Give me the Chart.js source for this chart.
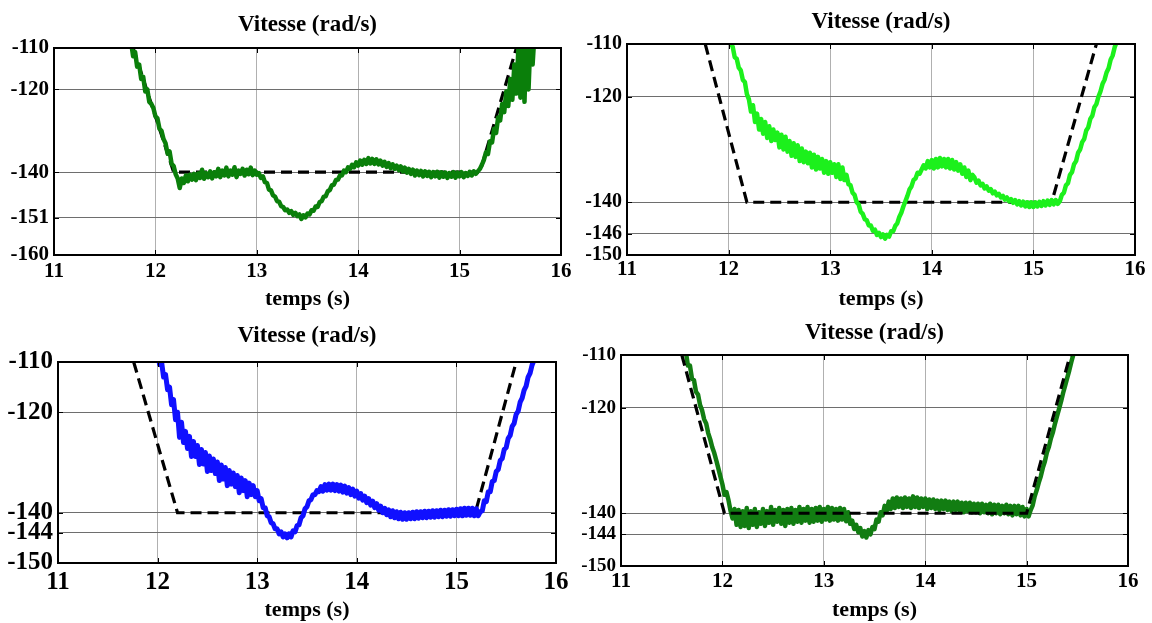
<!DOCTYPE html>
<html>
<head>
<meta charset="utf-8">
<script src="https://cdn.jsdelivr.net/npm/chart.js@4.4.1/dist/chart.umd.min.js"></script>
<style>
  html, body { margin: 0; padding: 0; background: #fff; }
  #wrap { position: relative; width: 1152px; height: 623px; overflow: hidden; }
  canvas { position: absolute; display: block; }
</style>
</head>
<body>
<div id="wrap">
  <canvas id="c1" width="576" height="311" style="left:0;top:0"></canvas>
  <canvas id="c2" width="576" height="311" style="left:576px;top:0"></canvas>
  <canvas id="c3" width="576" height="312" style="left:0;top:311px"></canvas>
  <canvas id="c4" width="576" height="312" style="left:576px;top:311px"></canvas>
</div>
<script>
// ---- time axis ----
const xTicks = [11, 12, 13, 14, 15, 16];

// ---- y tick values for each panel ----
const yTicksTL = [-160, -151, -140, -120, -110];
const yTicksTR = [-150, -146, -140, -120, -110];
const yTicksBL = [-150, -144, -140, -120, -110];
const yTicksBR = [-150, -144, -140, -120, -110];

// ---- speed references (rad/s) : [t, w] ----
const refTL = [[11.78, -110], [12.18, -140], [15.20, -140], [15.56, -110]];
const refTR = [[11.77, -110], [12.18, -140], [15.18, -140], [15.62, -110]];
const refBL = [[11.76, -110], [12.20, -140], [15.19, -140], [15.60, -110]];
const refBR = [[11.60, -110], [12.02, -140], [15.00, -140], [15.43, -110]];

// ---- measured speeds (rad/s) : [t, w] ----
const speedTL = [
  [11.72,-106],[11.74,-109],[11.76,-108.5],[11.78,-112],[11.80,-111],[11.82,-114.5],[11.84,-114],[11.86,-117.5],
  [11.88,-117],[11.90,-120.5],[11.92,-120],[11.94,-123],[11.96,-123.5],[11.98,-124.5],[12.00,-126.5],[12.02,-127],
  [12.04,-129.5],[12.06,-130],[12.08,-132],[12.10,-133],[12.12,-135.5],[12.14,-135],[12.16,-138],[12.18,-138.5],
  [12.20,-140.5],[12.22,-141.5],[12.24,-143.8],[12.26,-141.5],[12.28,-142.6],[12.30,-140.8],[12.32,-142.2],[12.34,-140.6],
  [12.36,-141.8],[12.38,-140.4],[12.40,-141.9],[12.42,-140.3],[12.44,-141.4],[12.46,-139.4],[12.48,-141.6],[12.50,-140.2],
  [12.52,-141.2],[12.54,-139.8],[12.56,-141.5],[12.58,-140],[12.60,-141],[12.62,-139.2],[12.64,-141.2],[12.66,-139.6],
  [12.68,-140.8],[12.70,-138.9],[12.72,-141],[12.74,-139.6],[12.76,-140.6],[12.78,-138.8],[12.80,-141.2],[12.82,-139.6],
  [12.84,-140.4],[12.86,-139.2],[12.88,-140.8],[12.90,-139.4],[12.92,-140.5],[12.94,-138.9],[12.96,-140.7],[12.98,-139.6],
  [13.00,-140.6],[13.02,-140.2],[13.04,-141.4],[13.06,-141],[13.08,-142.4],[13.10,-142.6],[13.12,-144.2],[13.14,-144.4],
  [13.16,-145.6],[13.18,-145.9],[13.20,-147],[13.22,-147.1],[13.24,-148.2],[13.26,-148.4],[13.28,-149.2],[13.30,-149],
  [13.32,-149.8],[13.34,-149.4],[13.36,-150.3],[13.38,-149.8],[13.40,-150.6],[13.42,-150.2],[13.44,-151.3],[13.46,-150.4],
  [13.48,-150.9],[13.50,-150],[13.52,-150.2],[13.54,-149.2],[13.56,-149.3],[13.58,-148.3],[13.60,-148.4],[13.62,-147.2],
  [13.64,-147],[13.66,-145.9],[13.68,-145.8],[13.70,-144.6],[13.72,-144.3],[13.74,-143.2],[13.76,-143],[13.78,-141.9],
  [13.80,-141.8],[13.82,-140.8],[13.84,-140.8],[13.86,-139.6],[13.88,-140],[13.90,-138.8],[13.92,-139.2],[13.94,-138.2],
  [13.96,-138.8],[13.98,-137.6],[14.00,-138.4],[14.02,-137.2],[14.04,-138.2],[14.06,-137],[14.08,-138],[14.10,-136.6],
  [14.12,-137.9],[14.14,-136.8],[14.16,-138],[14.18,-136.9],[14.20,-138.1],[14.22,-137.2],[14.24,-138.4],[14.26,-137.5],
  [14.28,-138.7],[14.30,-137.8],[14.32,-139],[14.34,-138.1],[14.36,-139.2],[14.38,-138.4],[14.40,-139.5],[14.42,-138.6],
  [14.44,-139.8],[14.46,-138.9],[14.48,-140.1],[14.50,-139.2],[14.52,-140.4],[14.54,-139.4],[14.56,-140.8],[14.58,-139.6],
  [14.60,-140.7],[14.62,-139.7],[14.64,-141],[14.66,-139.8],[14.68,-140.9],[14.70,-139.9],[14.72,-141.2],[14.74,-140],
  [14.76,-141],[14.78,-139.9],[14.80,-141.3],[14.82,-140],[14.84,-141.1],[14.86,-140.1],[14.88,-141.4],[14.90,-140.2],
  [14.92,-141.1],[14.94,-140],[14.96,-141.3],[14.98,-140.1],[15.00,-141],[15.02,-140],[15.04,-141.2],[15.06,-140.2],
  [15.08,-140.9],[15.10,-139.9],[15.12,-140.8],[15.14,-139.8],[15.16,-140.4],[15.18,-139.8],[15.20,-139.2],[15.22,-138.2],
  [15.24,-137],[15.26,-135.2],[15.28,-135.6],[15.30,-132.5],[15.32,-132.8],[15.34,-129.5],[15.36,-130.5],[15.38,-126.8],
  [15.40,-127.5],[15.42,-123.5],[15.44,-125.5],[15.46,-120.5],[15.48,-124],[15.50,-117.5],[15.52,-122.5],[15.54,-114],
  [15.56,-121],[15.58,-110],[15.60,-122],[15.62,-108],[15.64,-123],[15.66,-106],[15.68,-120],[15.70,-107],
  [15.72,-114],[15.74,-106]
];

const speedTR = [
  [12.00,-107],[12.02,-110],[12.04,-110.5],[12.06,-112.5],[12.08,-112.8],[12.10,-114.5],[12.12,-115],[12.14,-116.8],
  [12.16,-117.2],[12.18,-119.5],[12.20,-120.5],[12.22,-122.8],[12.24,-121.6],[12.26,-124.8],[12.28,-123.2],[12.30,-126.2],
  [12.32,-124.2],[12.34,-127],[12.36,-124.8],[12.38,-127.8],[12.40,-125.6],[12.42,-128.4],[12.44,-126.2],[12.46,-128.2],
  [12.48,-126.8],[12.50,-129.6],[12.52,-127.2],[12.54,-130],[12.56,-127.6],[12.58,-130.4],[12.60,-128.4],[12.62,-131.2],
  [12.64,-128.8],[12.66,-131.4],[12.68,-129.2],[12.70,-132.2],[12.72,-129.8],[12.74,-132.4],[12.76,-130.4],[12.78,-132.6],
  [12.80,-130.6],[12.82,-133.4],[12.84,-131],[12.86,-133.8],[12.88,-131.4],[12.90,-133.6],[12.92,-131.8],[12.94,-134.4],
  [12.96,-132.2],[12.98,-134.6],[13.00,-132.4],[13.02,-134.4],[13.04,-132.8],[13.06,-135.2],[13.08,-132.8],[13.10,-135.6],
  [13.12,-133.4],[13.14,-135.8],[13.16,-134.8],[13.18,-136.6],[13.20,-136.8],[13.22,-138.2],[13.24,-138.6],[13.26,-140],
  [13.28,-140.4],[13.30,-141.8],[13.32,-142.2],[13.34,-143.2],[13.36,-143.4],[13.38,-144.4],[13.40,-144.4],[13.42,-145.4],
  [13.44,-145.2],[13.46,-146.2],[13.48,-145.8],[13.50,-146.6],[13.52,-146.1],[13.54,-146.9],[13.56,-146.2],[13.58,-146.5],
  [13.60,-145.5],[13.62,-145.5],[13.64,-144.5],[13.66,-144],[13.68,-142.8],[13.70,-142],[13.72,-140.8],[13.74,-139.8],
  [13.76,-138.8],[13.78,-137.6],[13.80,-137],[13.82,-135.8],[13.84,-135.5],[13.86,-134.4],[13.88,-134.6],[13.90,-133.8],
  [13.92,-133],[13.94,-133.6],[13.96,-132.2],[13.98,-133.4],[14.00,-132],[14.02,-133.6],[14.04,-131.8],[14.06,-133.4],
  [14.08,-131.6],[14.10,-133.2],[14.12,-131.8],[14.14,-133.4],[14.16,-131.8],[14.18,-133.6],[14.20,-132],[14.22,-133.8],
  [14.24,-132.4],[14.26,-134],[14.28,-132.8],[14.30,-134.6],[14.32,-133.4],[14.34,-135.2],[14.36,-134],[14.38,-135.8],
  [14.40,-134.8],[14.42,-135.3],[14.44,-136.3],[14.46,-135.9],[14.48,-136.8],[14.50,-136.5],[14.52,-137.4],[14.54,-137],
  [14.56,-137.8],[14.58,-137.5],[14.60,-138.3],[14.62,-138],[14.64,-138.7],[14.66,-138.4],[14.68,-139.1],[14.70,-138.8],
  [14.72,-139.5],[14.74,-139.1],[14.76,-139.8],[14.78,-139.4],[14.80,-140.1],[14.82,-139.6],[14.84,-140.4],[14.86,-139.8],
  [14.88,-140.6],[14.90,-139.9],[14.92,-140.8],[14.94,-140],[14.96,-140.9],[14.98,-140],[15.00,-140.9],[15.02,-140],
  [15.04,-140.8],[15.06,-139.9],[15.08,-140.7],[15.10,-139.8],[15.12,-140.6],[15.14,-139.7],[15.16,-140.5],[15.18,-139.6],
  [15.20,-140.4],[15.22,-139.6],[15.24,-140.3],[15.26,-139.8],[15.28,-138.6],[15.30,-138.2],[15.32,-136.8],[15.34,-136.4],
  [15.36,-134.8],[15.38,-134.3],[15.40,-132.8],[15.42,-132.2],[15.44,-130.6],[15.46,-130],[15.48,-128.6],[15.50,-128],
  [15.52,-126.4],[15.54,-125.8],[15.56,-124.2],[15.58,-123.6],[15.60,-122],[15.62,-121.4],[15.64,-120],[15.66,-119],
  [15.68,-117.6],[15.70,-116.8],[15.72,-115.4],[15.74,-114.6],[15.76,-113],[15.78,-112.2],[15.80,-110.6],[15.82,-109.6],
  [15.84,-108]
];

const speedBL = [
  [12.00,-108],[12.02,-110.5],[12.04,-110],[12.06,-113],[12.08,-112.5],[12.10,-115.5],[12.12,-115],[12.14,-118.5],
  [12.16,-117.5],[12.18,-121.5],[12.20,-120],[12.22,-125],[12.24,-122],[12.26,-126],[12.28,-123.8],[12.30,-127.2],
  [12.32,-124.8],[12.34,-128.8],[12.36,-125.8],[12.38,-128.8],[12.40,-126.6],[12.42,-130.4],[12.44,-127.4],[12.46,-130.3],
  [12.48,-128],[12.50,-131.8],[12.52,-128.7],[12.54,-131.6],[12.56,-129.3],[12.58,-132.2],[12.60,-129.9],[12.62,-133.6],
  [12.64,-130.5],[12.66,-133.3],[12.68,-131],[12.70,-134.6],[12.72,-131.6],[12.74,-134.3],[12.76,-132.1],[12.78,-134.8],
  [12.80,-132.6],[12.82,-136],[12.84,-133.1],[12.86,-135.6],[12.88,-133.6],[12.90,-136.8],[12.92,-134.1],[12.94,-136.4],
  [12.96,-134.6],[12.98,-136.8],[13.00,-135.6],[13.02,-137.6],[13.04,-137.2],[13.06,-139],[13.08,-139],[13.10,-140.6],
  [13.12,-140.8],[13.14,-142],[13.16,-142.2],[13.18,-143.2],[13.20,-143.2],[13.22,-144.2],[13.24,-143.8],[13.26,-144.8],
  [13.28,-144.2],[13.30,-145],[13.32,-144.2],[13.34,-144.8],[13.36,-143.6],[13.38,-143.8],[13.40,-142.6],[13.42,-142.4],
  [13.44,-141],[13.46,-140.6],[13.48,-139.2],[13.50,-138.8],[13.52,-137.6],[13.54,-137.4],[13.56,-136.4],[13.58,-136.4],
  [13.60,-135.6],[13.62,-135.8],[13.64,-134.8],[13.66,-135.7],[13.68,-134.4],[13.70,-135.5],[13.72,-134.3],[13.74,-135.5],
  [13.76,-134.3],[13.78,-135.6],[13.80,-134.4],[13.82,-135.7],[13.84,-134.5],[13.86,-135.9],[13.88,-134.7],[13.90,-136.1],
  [13.92,-135],[13.94,-136.4],[13.96,-135.3],[13.98,-136.7],[14.00,-135.7],[14.02,-137.1],[14.04,-136.2],[14.06,-137.5],
  [14.08,-136.7],[14.10,-138],[14.12,-137.2],[14.14,-138.5],[14.16,-137.7],[14.18,-139],[14.20,-138.2],[14.22,-139.5],
  [14.24,-138.7],[14.26,-140],[14.28,-139.1],[14.30,-140.4],[14.32,-139.4],[14.34,-140.8],[14.36,-139.6],[14.38,-141],
  [14.40,-139.8],[14.42,-141.2],[14.44,-139.9],[14.46,-141.3],[14.48,-140],[14.50,-141.3],[14.52,-140],[14.54,-141.2],
  [14.56,-139.9],[14.58,-141.2],[14.60,-139.8],[14.62,-141.1],[14.64,-139.8],[14.66,-141],[14.68,-139.7],[14.70,-141],
  [14.72,-139.7],[14.74,-140.9],[14.76,-139.6],[14.78,-140.9],[14.80,-139.6],[14.82,-140.8],[14.84,-139.5],[14.86,-140.8],
  [14.88,-139.5],[14.90,-140.7],[14.92,-139.4],[14.94,-140.7],[14.96,-139.4],[14.98,-140.6],[15.00,-139.3],[15.02,-140.6],
  [15.04,-139.2],[15.06,-140.6],[15.08,-139.1],[15.10,-140.5],[15.12,-139.1],[15.14,-140.5],[15.16,-139.1],[15.18,-140.6],
  [15.20,-139.2],[15.22,-140.6],[15.24,-139.8],[15.26,-139.6],[15.28,-137.6],[15.30,-137.8],[15.32,-135.8],[15.34,-135.8],
  [15.36,-133.8],[15.38,-133.6],[15.40,-131.8],[15.42,-131.4],[15.44,-129.6],[15.46,-129.2],[15.48,-127.4],[15.50,-127],
  [15.52,-125.2],[15.54,-124.6],[15.56,-122.8],[15.58,-122.2],[15.60,-120.4],[15.62,-119.8],[15.64,-118],[15.66,-117.2],
  [15.68,-115.6],[15.70,-114.8],[15.72,-113],[15.74,-112.2],[15.76,-110.6],[15.78,-109.6],[15.80,-108]
];

const speedBR = [
  [11.60,-107],[11.62,-109.5],[11.64,-109.5],[11.66,-112],[11.68,-112],[11.70,-114.5],[11.72,-114.8],[11.74,-117],
  [11.76,-117.5],[11.78,-119.5],[11.80,-120.5],[11.82,-122.2],[11.84,-123],[11.86,-124.8],[11.88,-126],[11.90,-127.5],
  [11.92,-128.6],[11.94,-130],[11.96,-131.5],[11.98,-133],[12.00,-134.5],[12.02,-136.5],[12.04,-136],[12.06,-137.5],
  [12.08,-139.5],[12.10,-141],[12.12,-139.2],[12.14,-142.2],[12.16,-139.4],[12.18,-142.6],[12.20,-139.6],[12.22,-142.4],
  [12.24,-139],[12.26,-142.8],[12.28,-139.6],[12.30,-142.2],[12.32,-139.2],[12.34,-142.6],[12.36,-139.8],[12.38,-142],
  [12.40,-139.2],[12.42,-142.4],[12.44,-139.6],[12.46,-141.8],[12.48,-138.8],[12.50,-142.2],[12.52,-139.4],[12.54,-141.6],
  [12.56,-139],[12.58,-142],[12.60,-139.4],[12.62,-142.4],[12.64,-139.2],[12.66,-141.8],[12.68,-139],[12.70,-142],
  [12.72,-139.4],[12.74,-141.6],[12.76,-138.8],[12.78,-141.8],[12.80,-139.2],[12.82,-141.4],[12.84,-138.8],[12.86,-141.8],
  [12.88,-139.2],[12.90,-141.6],[12.92,-139],[12.94,-141.4],[12.96,-138.8],[12.98,-141.6],[13.00,-139.2],[13.02,-141.2],
  [13.04,-138.8],[13.06,-141.4],[13.08,-139],[13.10,-141.2],[13.12,-139.2],[13.14,-141.4],[13.16,-139],[13.18,-141.2],
  [13.20,-139.2],[13.22,-141.5],[13.24,-139.8],[13.26,-142],[13.28,-141.4],[13.30,-143],[13.32,-142.2],[13.34,-143.6],
  [13.36,-142.8],[13.38,-144.4],[13.40,-143.4],[13.42,-144.6],[13.44,-143.2],[13.46,-144],[13.48,-142.6],[13.50,-143],
  [13.52,-141.2],[13.54,-141.6],[13.56,-139.8],[13.58,-140.4],[13.60,-138.6],[13.62,-139.6],[13.64,-137.8],[13.66,-139.2],
  [13.68,-137.2],[13.70,-139],[13.72,-137],[13.74,-138.8],[13.76,-137.2],[13.78,-139],[13.80,-137],[13.82,-138.8],
  [13.84,-137.2],[13.86,-139],[13.88,-136.8],[13.90,-138.8],[13.92,-137],[13.94,-139],[13.96,-137.2],[13.98,-138.8],
  [14.00,-137.2],[14.02,-139.2],[14.04,-137.4],[14.06,-139],[14.08,-137.4],[14.10,-139.2],[14.12,-137.6],[14.14,-139.4],
  [14.16,-137.6],[14.18,-139.2],[14.20,-137.6],[14.22,-139.4],[14.24,-137.8],[14.26,-139.6],[14.28,-137.8],[14.30,-139.4],
  [14.32,-137.8],[14.34,-139.6],[14.36,-138],[14.38,-139.8],[14.40,-138],[14.42,-139.6],[14.44,-138],[14.46,-139.8],
  [14.48,-138.2],[14.50,-139.8],[14.52,-138.2],[14.54,-140],[14.56,-138.2],[14.58,-139.8],[14.60,-138.4],[14.62,-140],
  [14.64,-138.2],[14.66,-140.2],[14.68,-138.4],[14.70,-140],[14.72,-138.4],[14.74,-140.2],[14.76,-138.6],[14.78,-140],
  [14.80,-138.4],[14.82,-140.2],[14.84,-138.6],[14.86,-140.4],[14.88,-138.6],[14.90,-140.2],[14.92,-138.6],[14.94,-140.4],
  [14.96,-138.8],[14.98,-140.6],[15.00,-139.2],[15.02,-140.6],[15.04,-139.4],[15.06,-138.5],[15.08,-136.8],[15.10,-135.6],
  [15.12,-134.2],[15.14,-133],[15.16,-131.4],[15.18,-130.2],[15.20,-128.5],[15.22,-127.4],[15.24,-125.8],[15.26,-124.6],
  [15.28,-123],[15.30,-121.6],[15.32,-120.2],[15.34,-118.8],[15.36,-117.2],[15.38,-115.8],[15.40,-114.4],[15.42,-113],
  [15.44,-111.4],[15.46,-110],[15.48,-108.5]
];

// ---- drawing ----
const FONT = "'Liberation Serif', 'Times New Roman', serif";
const toXY = arr => arr.map(([x, y]) => ({ x, y }));

// box around the plot area with inward tick marks
const framePlugin = {
  id: 'frame',
  afterDraw(chart) {
    const { ctx, chartArea: a, scales: { x, y } } = chart;
    ctx.save();
    ctx.strokeStyle = '#000';
    ctx.lineWidth = 1;
    const tl = 5;
    ctx.beginPath();
    x.ticks.forEach(t => {
      const px = Math.round(x.getPixelForValue(t.value)) + 0.5;
      ctx.moveTo(px, a.top); ctx.lineTo(px, a.top + tl);
      ctx.moveTo(px, a.bottom); ctx.lineTo(px, a.bottom - tl);
    });
    y.ticks.forEach(t => {
      const py = Math.round(y.getPixelForValue(t.value)) + 0.5;
      ctx.moveTo(a.left, py); ctx.lineTo(a.left + tl, py);
      ctx.moveTo(a.right, py); ctx.lineTo(a.right - tl, py);
    });
    ctx.stroke();
    ctx.lineWidth = 2;
    ctx.strokeRect(a.left, a.top, a.right - a.left, a.bottom - a.top);
    ctx.restore();
  }
};

function buildPanel(p) {
  const canvas = document.getElementById(p.id);
  const W = canvas.width, H = canvas.height;
  const titleSize = 23, titleLH = titleSize * 1.2;
  const xLH = p.xFont * 1.2;
  const labelTitle = 22;

  const speedSet = {
    data: toXY(p.speed), borderColor: p.color, borderWidth: p.lineWidth,
    borderJoinStyle: 'round', borderCapStyle: 'round',
    pointRadius: 0, tension: 0, clip: 0, order: p.refOnTop ? 2 : 1
  };
  const refSet = {
    data: toXY(p.ref), borderColor: '#000', borderWidth: 3.2, borderDash: [11, 6],
    pointRadius: 0, tension: 0, clip: 0, order: p.refOnTop ? 1 : 2
  };

  new Chart(canvas, {
    type: 'line',
    data: { datasets: [speedSet, refSet] },
    options: {
      responsive: false,
      animation: false,
      events: [],
      parsing: false,
      layout: { padding: { left: 0, top: 0, right: W - p.area.r, bottom: 0 } },
      plugins: {
        legend: { display: false },
        tooltip: { enabled: false },
        title: {
          display: true, fullSize: false, text: 'Vitesse (rad/s)', color: '#000',
          font: { family: FONT, size: titleSize, weight: 'bold' },
          padding: { top: p.titleY - titleLH / 2, bottom: p.area.t - p.titleY - titleLH / 2 }
        }
      },
      scales: {
        x: {
          type: 'linear', min: 11, max: 16,
          afterBuildTicks: s => { s.ticks = xTicks.map(v => ({ value: v })); },
          afterFit: s => { s.height = H - p.area.b; },
          ticks: {
            color: '#000', maxRotation: 0, autoSkip: false,
            padding: p.xTickY - p.area.b - xLH / 2,
            font: { family: FONT, size: p.xFont, weight: 'bold' },
            callback: v => String(v)
          },
          grid: { color: '#b0b0b0', lineWidth: 1, drawTicks: false },
          border: { display: false },
          title: {
            display: true, text: 'temps (s)', color: '#000',
            font: { family: FONT, size: labelTitle, weight: 'bold', lineHeight: 1 },
            padding: { top: 0, bottom: H - p.xTitleY - labelTitle / 2 }
          }
        },
        y: {
          type: 'linear', min: p.yTicks[0], max: p.yTicks[p.yTicks.length - 1],
          afterBuildTicks: s => { s.ticks = p.yTicks.map(v => ({ value: v })); },
          afterFit: s => { s.width = p.area.l; },
          ticks: {
            color: '#000', padding: p.yPad, autoSkip: false,
            font: { family: FONT, size: p.yFont, weight: 'bold' },
            callback: v => String(v)
          },
          grid: { color: '#6e6e6e', lineWidth: 1, drawTicks: false },
          border: { display: false }
        }
      }
    },
    plugins: [framePlugin]
  });
}

const panels = [
  { id: 'c1', speed: speedTL, ref: refTL, yTicks: yTicksTL, color: '#0a7f0a', lineWidth: 4.5, refOnTop: false,
    area: { l: 54, t: 48, r: 561, b: 255 }, titleY: 25, xTickY: 271.5, xTitleY: 299, xFont: 21, yFont: 21, yPad: 5 },
  { id: 'c2', speed: speedTR, ref: refTR, yTicks: yTicksTR, color: '#1cf01c', lineWidth: 4.5, refOnTop: false,
    area: { l: 51, t: 44, r: 559, b: 255 }, titleY: 22, xTickY: 270, xTitleY: 299, xFont: 21, yFont: 20, yPad: 5 },
  { id: 'c3', speed: speedBL, ref: refBL, yTicks: yTicksBL, color: '#1010ff', lineWidth: 5, refOnTop: false,
    area: { l: 58, t: 51, r: 556, b: 252 }, titleY: 25, xTickY: 271.7, xTitleY: 299, xFont: 25, yFont: 25, yPad: 5 },
  { id: 'c4', speed: speedBR, ref: refBR, yTicks: yTicksBR, color: '#127d12', lineWidth: 4.5, refOnTop: true,
    area: { l: 45, t: 44, r: 552, b: 255 }, titleY: 22, xTickY: 270.7, xTitleY: 299, xFont: 21, yFont: 19, yPad: 5 }
];

panels.forEach(buildPanel);
</script>
</body>
</html>
